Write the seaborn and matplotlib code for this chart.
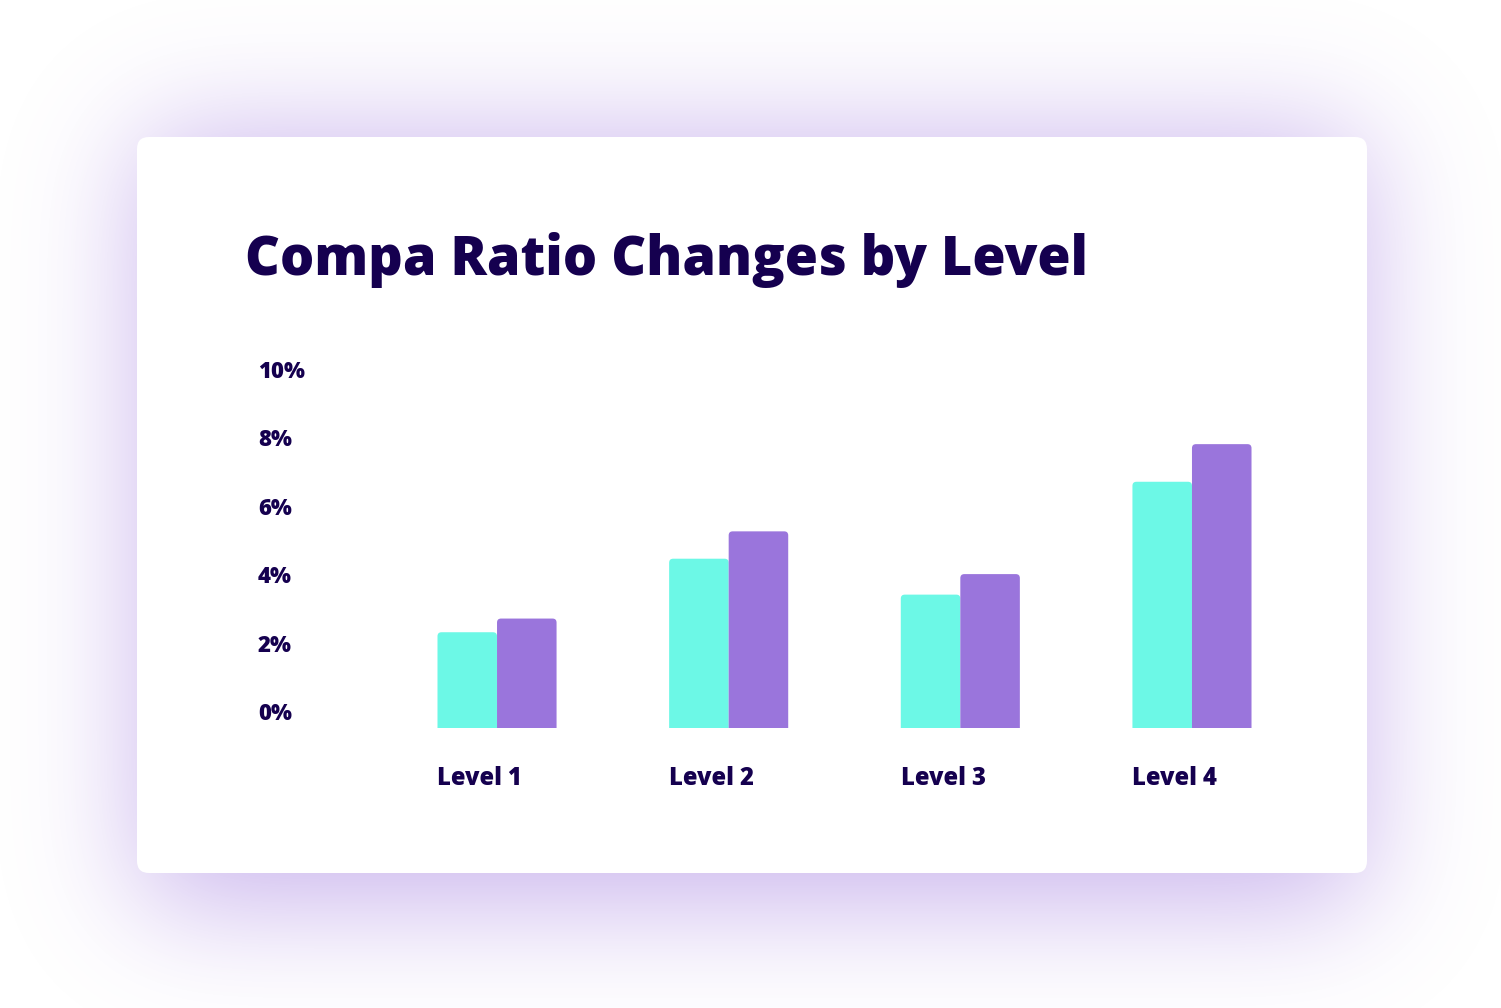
import math
import numpy as np
import pandas as pd
import matplotlib
matplotlib.use("Agg")
import matplotlib.pyplot as plt
import matplotlib.transforms as mtransforms
from matplotlib.patches import FancyBboxPatch
import seaborn as sns

# ---------------- data ----------------
levels = ["Level 1", "Level 2", "Level 3", "Level 4"]
series_names = ["Prior", "Current"]
prior_values = [2.8, 4.95, 3.9, 7.2]
current_values = [3.2, 5.75, 4.5, 8.3]
y_ticks = [0, 2, 4, 6, 8, 10]
y_tick_labels = ["0%", "2%", "4%", "6%", "8%", "10%"]
title_text = "Compa Ratio Changes by Level"

# ---------------- style ----------------
TEAL = "#6cf8e6"
PURPLE = "#9a75dc"
INK = "#15004f"
GLOW = (0.60, 0.44, 0.87)

sns.set_theme(style="white")
plt.rcParams["font.family"] = ["Open Sans", "DejaVu Sans"]

W, H = 1501, 1008
fig = plt.figure(figsize=(W / 100, H / 100), dpi=100)
fig.patch.set_facecolor("white")

# ---------------- background glow + card ----------------
bg = fig.add_axes([0, 0, 1, 1])
bg.set_axis_off()
bg.set_xlim(0, W)
bg.set_ylim(H, 0)
erf = np.frompyfunc(math.erf, 1, 1)


def profile(v, a, b, s):
    k = s * math.sqrt(2)
    return 0.5 * (erf((v - a) / k).astype(float) - erf((v - b) / k).astype(float))


xs = np.arange(W) + 0.5
ys = np.arange(H) + 0.5
inten = np.outer(profile(ys, 135, 905, 60), profile(xs, 140, 1364, 60))
img = np.zeros((H, W, 4))
img[..., 0], img[..., 1], img[..., 2] = GLOW
img[..., 3] = 0.52 * inten
bg.imshow(img, extent=[0, W, H, 0], aspect="auto", interpolation="bilinear")
bg.add_patch(FancyBboxPatch((137, 137), 1230, 736,
                            boxstyle="round,pad=0,rounding_size=12",
                            fc="white", ec="none"))

# ---------------- chart ----------------
ax_left, ax_right = 381.2, 1307.8
ax_bottom, ax_top = 728.0, 386.0
ax = fig.add_axes([ax_left / W, (H - ax_bottom) / H,
                   (ax_right - ax_left) / W, (ax_bottom - ax_top) / H])
ax.set_facecolor("none")

df = pd.DataFrame({
    "level": levels * 2,
    "series": [series_names[0]] * len(levels) + [series_names[1]] * len(levels),
    "value": prior_values + current_values,
})
BAR_WIDTH = 0.514
sns.barplot(data=df, x="level", y="value", hue="series", order=levels,
            hue_order=series_names, palette=[TEAL, PURPLE], width=BAR_WIDTH,
            saturation=1, gap=0, legend=False, ax=ax, errorbar=None)
ax.set_xlim(-0.5, len(levels) - 0.5)
ax.set_ylim(0, 10)
for s in ax.spines.values():
    s.set_visible(False)
ax.set_xticks([])
ax.set_yticks([])
ax.set_xlabel("")
ax.set_ylabel("")

# round the top corners of the bars
px_per_x = (ax_right - ax_left) / (len(levels))
px_per_y = (ax_bottom - ax_top) / 10.0
aspect = (1 / px_per_y) / (1 / px_per_x)
r = 4.0 / px_per_x
for p in list(ax.patches):
    x, y = p.get_xy()
    w, h = p.get_width(), p.get_height()
    fc = p.get_facecolor()
    p.remove()
    ax.add_patch(FancyBboxPatch((x, y - 0.3), w, h + 0.3,
                                boxstyle=f"round,pad=0,rounding_size={r}",
                                mutation_aspect=aspect, fc=fc, ec="none"))

# y labels (above their value, left aligned)
ytr = ax.get_yaxis_transform() + mtransforms.Affine2D().translate(0, 8)
ylabs = []
label_x = (258 - ax_left) / (ax_right - ax_left)
for t, lab in zip(y_ticks, y_tick_labels):
    ylabs.append(ax.text(label_x, t, lab, transform=ytr, ha="left", va="baseline",
                         fontsize=18, fontweight="heavy", color=INK))

# x labels (left aligned with each bar group)
xtr = ax.get_xaxis_transform() + mtransforms.Affine2D().translate(0, -57)
xlabs = []
for i, lab in enumerate(levels):
    xlabs.append(ax.text(i - BAR_WIDTH / 2, 0, lab, transform=xtr, ha="left",
                         va="baseline", fontsize=18, fontweight="heavy", color=INK))

title = fig.text(245 / W, (H - 275) / H, title_text, ha="left", va="baseline",
                 fontsize=40, fontweight="heavy", color=INK)

# fit text widths to the reference
fig.canvas.draw()
rend = fig.canvas.get_renderer()


def fit(objs, ref, target):
    wnow = ref.get_window_extent(rend).width
    size = ref.get_fontsize() * target / wnow
    for o in objs:
        o.set_fontsize(size)


fit([title], title, 841)
fit(xlabs, xlabs[0], 85)
fit(ylabs, ylabs[-1], 47)

fig.savefig("out.png", dpi=100, facecolor="white")
